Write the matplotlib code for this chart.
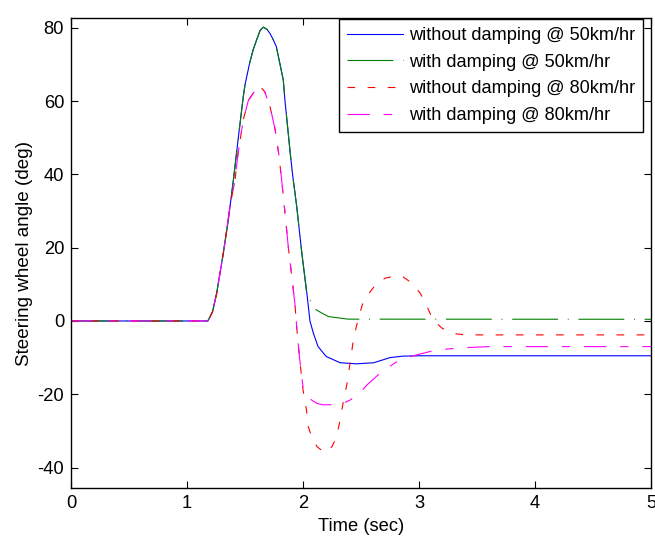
import matplotlib
matplotlib.use("Agg")
import matplotlib.pyplot as plt

plt.rcParams['font.family'] = ['Liberation Sans', 'DejaVu Sans']
plt.rcParams['lines.scale_dashes'] = False
plt.rcParams['axes.unicode_minus'] = False

# ortak yükselme kısmı (50 km/hr)
t_rise50 = [0, 1.18, 1.22, 1.256, 1.313, 1.356, 1.40, 1.44, 1.485, 1.50, 1.54, 1.57, 1.60,
            1.63, 1.658, 1.69, 1.715, 1.74, 1.77, 1.83, 1.845, 1.89, 1.91, 1.946, 1.99]
y_rise50 = [0, 0, 2.5, 7.6, 18.5, 27.6, 38.5, 49.4, 61.2, 64.5, 70.4, 74.0, 76.7,
            79.3, 80.2, 79.6, 78.5, 77.0, 74.9, 65.8, 60.0, 45.8, 40.0, 31.2, 18.5]

# sönümsüz 50 km/hr
t_nodamp50 = [2.03, 2.06, 2.09, 2.13, 2.20, 2.32, 2.46, 2.61, 2.75, 2.86, 3.0, 5.0]
y_nodamp50 = [8.5, 0, -3.4, -7.0, -9.7, -11.4, -11.7, -11.4, -10.0, -9.6, -9.5, -9.5]

# sönümlü 50 km/hr
t_damp50 = [2.03, 2.06, 2.10, 2.16, 2.22, 2.29, 2.39, 5.0]
y_damp50 = [8.0, 5.7, 3.3, 2.2, 1.2, 0.9, 0.5, 0.46]

# ortak yükselme kısmı (80 km/hr)
t_rise80 = [0, 1.18, 1.22, 1.256, 1.313, 1.37, 1.414, 1.44, 1.485, 1.53, 1.60, 1.63, 1.67,
            1.716, 1.76, 1.79, 1.816, 1.845, 1.873, 1.90, 1.93, 1.95, 1.97]
y_rise80 = [0, 0, 2.5, 7.6, 18.5, 31.2, 38.5, 45.8, 54.9, 60.3, 63.5, 64.0, 62.6,
            58.5, 52.2, 45.8, 38.5, 29.4, 20.3, 13.0, 4.8, -3.4, -10.0]

# sönümsüz 80 km/hr
t_nodamp80 = [2.0, 2.03, 2.046, 2.075, 2.12, 2.19, 2.25, 2.29, 2.32, 2.35, 2.38, 2.405,
              2.43, 2.46, 2.49, 2.52, 2.58, 2.635, 2.71, 2.81, 2.86, 2.94, 3.01, 3.07,
              3.12, 3.20, 3.29, 3.40, 5.0]
y_nodamp80 = [-18.8, -24.3, -28.9, -31.6, -34.3, -36.0, -34.3, -31.6, -27.0, -21.6, -17.0, -11.6,
              -6.1, -1.5, 2.1, 5.3, 8.0, 10.3, 11.7, 12.4, 12.1, 10.3, 7.6, 3.9,
              0.3, -2.0, -3.4, -3.8, -3.8]

# sönümlü 80 km/hr
t_damp80 = [2.0, 2.03, 2.07, 2.12, 2.175, 2.32, 2.405, 2.49, 2.55, 2.68, 2.81, 2.95,
            3.15, 3.38, 3.6, 5.0]
y_damp80 = [-18.0, -19.7, -21.5, -22.5, -22.9, -22.8, -21.6, -19.7, -17.5, -13.8, -11.1, -9.5,
            -7.9, -7.3, -7.0, -7.0]

labels = ['without damping @ 50km/hr', 'with damping @ 50km/hr',
          'without damping @ 80km/hr', 'with damping @ 80km/hr']

fig = plt.figure(figsize=(6.55, 5.38), dpi=100)
ax = fig.add_axes([0.1084, 0.0929, 0.8855, 0.8736])

lw = 0.8
ax.plot(t_rise50 + t_nodamp50, y_rise50 + y_nodamp50, color='#0000ff', lw=lw, label=labels[0])
ax.plot(t_rise50 + t_damp50, y_rise50 + y_damp50, color='#008000', lw=lw,
        dashes=(33, 7, 0.7, 7), label=labels[1])
ax.plot(t_rise80 + t_nodamp80, y_rise80 + y_nodamp80, color='#ff0000', lw=lw,
        dashes=(5.5, 9), label=labels[2])
ax.plot(t_rise80 + t_damp80, y_rise80 + y_damp80, color='#ff00ff', lw=lw,
        dashes=(16, 10, 6, 10), label=labels[3])

ax.set_xlim(0, 5)
ax.set_ylim(-45.6, 82.7)
ax.set_xticks([0, 1, 2, 3, 4, 5])
ax.set_yticks([-40, -20, 0, 20, 40, 60, 80])
ax.tick_params(direction='in', top=True, right=True, length=5, width=0.8,
               labelsize=13.2, pad=5)
for s in ax.spines.values():
    s.set_linewidth(1.0)

ax.set_xlabel('Time (sec)', fontsize=13.2, labelpad=4)
ax.set_ylabel('Steering wheel angle (deg)', fontsize=13.6, labelpad=3)

leg = ax.legend(loc='upper right', bbox_to_anchor=(0.9857, 0.9972), borderaxespad=0,
                fontsize=13.1, handlelength=3.07, handletextpad=0.33, labelspacing=0.53,
                borderpad=0.42, fancybox=False, framealpha=1, edgecolor='black')
leg.get_frame().set_linewidth(1.0)

fig.savefig('out.png', dpi=100)
